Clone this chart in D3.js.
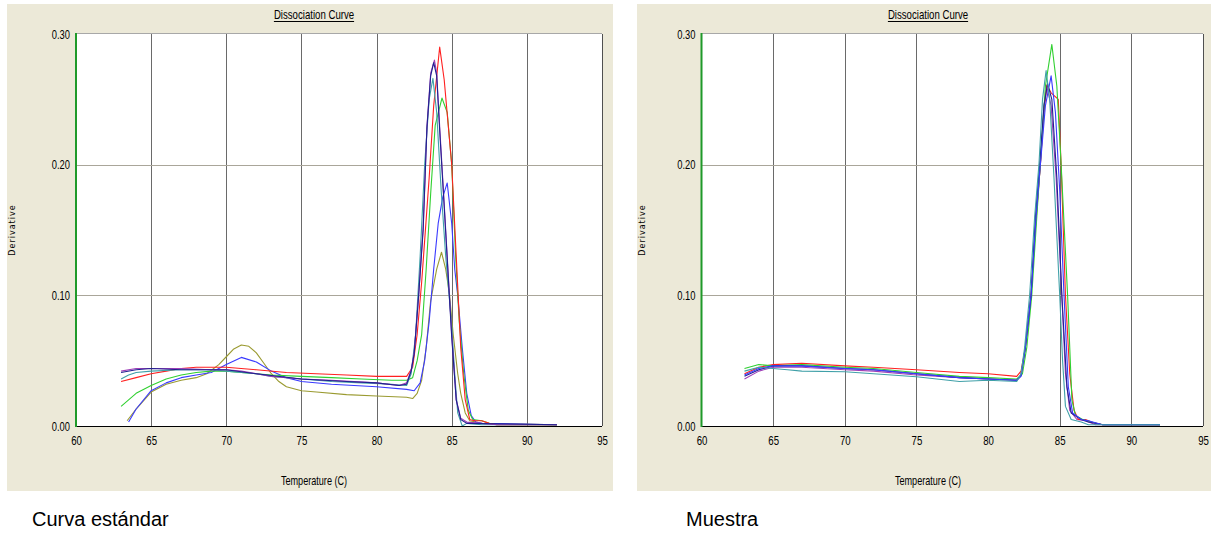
<!DOCTYPE html>
<html>
<head>
<meta charset="utf-8">
<script src="https://cdn.jsdelivr.net/npm/d3@7"></script>
<style>
  body { margin: 0; background: #fff; }
  .tick text { font-family: "Liberation Sans Narrow", "Arial Narrow", "Liberation Sans", sans-serif; font-size: 13px; fill: #000; }
  .lbl { font-family: "Liberation Sans Narrow", "Arial Narrow", "Liberation Sans", sans-serif; font-size: 13px; fill: #000; }
  .cap { font-family: "Liberation Sans", Arial, sans-serif; font-size: 20px; fill: #000; }
</style>
</head>
<body>
<div id="chart-area"></div>
<script>
// x ticks / y ticks shared by both panels
var tempTicks = [60, 65, 70, 75, 80, 85, 90, 95];
var derivTicks = [0, 0.1, 0.2, 0.3];
var captions = ["Curva estándar", "Muestra"];

// ---- Curva estándar ----
var stdRed = [[63,0.034],[64,0.037],[65,0.040],[66,0.042],[67,0.044],[68,0.045],[70,0.045],[72,0.043],[74,0.041],[76,0.040],[78,0.039],[80,0.038],[82,0.038],[82.4,0.045],[82.7,0.07],[83,0.11],[83.5,0.19],[83.8,0.245],[84.2,0.29],[84.5,0.265],[85,0.20],[85.3,0.13],[85.6,0.06],[85.9,0.02],[86.2,0.005],[86.5,0.004],[87,0.004],[87.5,0.002],[88,0.001],[92,0.001]];
var stdPurple = [[63,0.042],[64,0.044],[65,0.044],[67,0.044],[69,0.043],[70,0.043],[71,0.042],[72,0.040],[73,0.038],[75,0.036],[77,0.035],[80,0.033],[81.5,0.031],[82,0.033],[82.3,0.043],[82.5,0.056],[82.8,0.10],[83.1,0.152],[83.35,0.229],[83.6,0.27],[83.85,0.28],[84.0,0.27],[84.2,0.229],[84.5,0.17],[84.75,0.12],[85,0.07],[85.3,0.02],[85.6,0.006],[86,0.003],[87,0.002],[88,0.001],[92,0.001]];
var stdNavy = [[63,0.041],[64,0.043],[65,0.044],[67,0.043],[70,0.043],[72,0.040],[75,0.036],[78,0.034],[80,0.033],[81.5,0.031],[82,0.032],[82.3,0.042],[82.5,0.055],[82.8,0.10],[83.1,0.15],[83.35,0.228],[83.6,0.268],[83.8,0.278],[84.0,0.268],[84.2,0.226],[84.5,0.168],[84.75,0.118],[85,0.068],[85.3,0.02],[85.6,0.005],[86,0.002],[92,0.001]];
var stdTeal = [[63,0.036],[63.5,0.039],[64,0.041],[65,0.042],[67,0.043],[69,0.043],[70,0.042],[71,0.041],[72,0.040],[73,0.038],[75,0.036],[77,0.034],[79,0.033],[81,0.032],[82,0.031],[82.3,0.04],[82.6,0.07],[82.9,0.13],[83.2,0.2],[83.5,0.25],[83.75,0.266],[84,0.24],[84.3,0.18],[84.6,0.13],[85,0.077],[85.2,0.04],[85.4,0.01],[85.7,0.0],[86,0.002],[87,0.001],[92,0.001]];
var stdGreen = [[63,0.015],[63.5,0.020],[64,0.025],[65,0.031],[66,0.036],[67,0.039],[68,0.041],[69,0.042],[70,0.042],[71,0.041],[72,0.040],[73,0.039],[75,0.038],[77,0.037],[79,0.036],[81,0.035],[82,0.035],[82.4,0.037],[82.7,0.05],[83,0.07],[83.3,0.12],[83.6,0.178],[83.9,0.23],[84.35,0.251],[84.7,0.24],[85,0.20],[85.26,0.13],[85.5,0.08],[85.8,0.04],[86.1,0.012],[86.4,0.005],[87,0.004],[87.5,0.002],[88,0.001],[92,0.001]];
var stdBlue = [[63.5,0.003],[64,0.013],[65,0.027],[66,0.033],[67,0.037],[68,0.039],[69,0.041],[70,0.047],[71,0.0525],[72,0.049],[73,0.042],[74,0.037],[75,0.034],[77,0.032],[80,0.030],[82,0.028],[82.5,0.027],[82.9,0.033],[83.2,0.05],[83.5,0.08],[83.8,0.12],[84.1,0.155],[84.4,0.175],[84.7,0.186],[85,0.155],[85.2,0.12],[85.4,0.10],[85.7,0.06],[86,0.025],[86.3,0.008],[86.6,0.003],[87,0.002],[92,0.001]];
var stdOlive = [[63.4,0.004],[64,0.013],[65,0.026],[66,0.032],[67,0.035],[68,0.037],[68.7,0.040],[69.5,0.047],[70,0.053],[70.5,0.059],[71,0.062],[71.5,0.061],[72,0.056],[72.5,0.048],[73,0.040],[73.5,0.034],[74,0.030],[75,0.027],[76,0.026],[78,0.024],[80,0.023],[82,0.022],[82.4,0.021],[82.7,0.025],[83,0.035],[83.3,0.06],[83.6,0.096],[84,0.12],[84.32,0.133],[84.6,0.12],[84.85,0.101],[85.1,0.07],[85.4,0.04],[85.6,0.025],[85.9,0.01],[86.2,0.004],[87,0.002],[92,0.001]];

// ---- Muestra ----
var smpRed = [[63,0.040],[64,0.045],[65,0.047],[67,0.048],[70,0.046],[72,0.045],[75,0.043],[78,0.041],[80,0.040],[82,0.038],[82.3,0.042],[82.6,0.06],[83,0.10],[83.3,0.15],[83.65,0.2],[83.9,0.24],[84.1,0.261],[84.4,0.255],[84.9,0.25],[85.1,0.2],[85.4,0.10],[85.7,0.04],[86,0.012],[86.3,0.005],[86.8,0.005],[87.2,0.003],[88,0.001],[92,0.001]];
var smpGreen = [[63,0.044],[64,0.047],[65,0.046],[67,0.047],[70,0.045],[72,0.044],[75,0.041],[78,0.038],[80,0.037],[82,0.036],[82.4,0.04],[82.7,0.06],[83.05,0.10],[83.4,0.16],[83.7,0.21],[84.0,0.26],[84.45,0.292],[84.8,0.26],[85.1,0.2],[85.55,0.10],[85.85,0.02],[86.1,0.008],[86.6,0.005],[87.2,0.003],[88,0.001],[92,0.001]];
var smpBlue = [[63,0.039],[64,0.044],[65,0.046],[67,0.046],[70,0.044],[72,0.043],[75,0.040],[78,0.037],[80,0.036],[82,0.035],[82.3,0.038],[82.6,0.06],[83,0.10],[83.35,0.16],[83.65,0.2],[84,0.245],[84.4,0.268],[84.7,0.24],[85,0.18],[85.3,0.10],[85.6,0.03],[85.9,0.01],[86.5,0.005],[87,0.004],[88,0.001],[92,0.001]];
var smpTeal = [[63,0.042],[64,0.045],[65,0.044],[66,0.043],[67,0.042],[70,0.0415],[72,0.040],[75,0.0377],[78,0.034],[80,0.035],[82,0.034],[82.3,0.04],[82.55,0.06],[82.9,0.10],[83.25,0.16],[83.55,0.2],[83.8,0.25],[84.05,0.272],[84.3,0.25],[84.6,0.19],[85,0.10],[85.2,0.05],[85.4,0.015],[85.8,0.005],[86.5,0.003],[87,0.001],[92,0.001]];
var smpPurple = [[63,0.036],[64,0.042],[65,0.045],[67,0.045],[70,0.043],[72,0.042],[75,0.039],[78,0.037],[80,0.036],[82,0.035],[82.3,0.039],[82.6,0.06],[83,0.10],[83.35,0.16],[83.65,0.2],[83.9,0.245],[84.1,0.26],[84.4,0.245],[84.75,0.19],[85.1,0.11],[85.4,0.04],[85.7,0.012],[86.2,0.005],[86.8,0.004],[87.5,0.001],[92,0.001]];
var smpNavy = [[63,0.038],[64,0.043],[65,0.046],[67,0.046],[70,0.044],[72,0.043],[75,0.040],[78,0.037],[80,0.036],[82,0.035],[82.3,0.039],[82.6,0.06],[83,0.10],[83.3,0.16],[83.6,0.2],[83.9,0.245],[84.15,0.262],[84.45,0.25],[84.8,0.19],[85.15,0.10],[85.5,0.03],[85.8,0.01],[86.5,0.005],[87,0.003],[88,0.001],[92,0.001]];

var stdSeries = [
    { color: "#9a9a30", pts: stdOlive },
    { color: "#3a3aff", pts: stdBlue },
    { color: "#30d030", pts: stdGreen },
    { color: "#ff2020", pts: stdRed },
    { color: "#40a0a8", pts: stdTeal },
    { color: "#a040b8", pts: stdPurple },
    { color: "#202090", pts: stdNavy }
];
var smpSeries = [
    { color: "#a040b8", pts: smpPurple },
    { color: "#ff2020", pts: smpRed },
    { color: "#30d030", pts: smpGreen },
    { color: "#202090", pts: smpNavy },
    { color: "#3a3aff", pts: smpBlue },
    { color: "#40a0a8", pts: smpTeal }
];

var svg = d3.select("#chart-area").append("svg")
    .attr("width", 1211)
    .attr("height", 535);

// squeeze text to mimic the narrow font of the original
function narrow(sel, k) {
    sel.each(function () {
        var w = this.getComputedTextLength();
        d3.select(this).attr("textLength", w * k).attr("lengthAdjust", "spacingAndGlyphs");
    });
}

function drawPanel(p, series, caption) {
    var g = svg.append("g");

    g.append("rect")
        .attr("x", p.bx0).attr("y", 4)
        .attr("width", p.bx1 - p.bx0).attr("height", 487)
        .attr("fill", "#ece9d8");

    var x = d3.scaleLinear().domain([60, 95]).range([p.x0, p.x1]);
    var y = d3.scaleLinear().domain([0, 0.3]).range([426, 34]);

    g.append("rect")
        .attr("x", p.x0).attr("y", y(0.3))
        .attr("width", p.x1 - p.x0).attr("height", y(0) - y(0.3))
        .attr("fill", "#ffffff");

    // grid
    g.selectAll(".vgrid")
        .data(tempTicks.slice(1, -1))
        .enter().append("line")
        .attr("x1", function (d) { return Math.round(x(d)) + 0.5; })
        .attr("x2", function (d) { return Math.round(x(d)) + 0.5; })
        .attr("y1", y(0.3)).attr("y2", y(0))
        .attr("stroke", "#6a6a6a");
    g.selectAll(".hgrid")
        .data([0.1, 0.2])
        .enter().append("line")
        .attr("x1", p.x0).attr("x2", p.x1)
        .attr("y1", function (d) { return Math.round(y(d)) + 0.5; })
        .attr("y2", function (d) { return Math.round(y(d)) + 0.5; })
        .attr("stroke", "#aaa69a");

    // frame
    g.append("line").attr("x1", p.x0).attr("x2", p.x1)
        .attr("y1", Math.round(y(0.3)) - 0.5).attr("y2", Math.round(y(0.3)) - 0.5)
        .attr("stroke", "#a8a8a8");
    g.append("line").attr("x1", Math.round(p.x1) + 0.5).attr("x2", Math.round(p.x1) + 0.5)
        .attr("y1", y(0.3)).attr("y2", y(0))
        .attr("stroke", "#505050");

    // curves
    var line = d3.line()
        .x(function (d) { return x(d[0]); })
        .y(function (d) { return y(d[1]); });
    g.selectAll(".curve")
        .data(series)
        .enter().append("path")
        .attr("d", function (d) { return line(d.pts); })
        .attr("fill", "none")
        .attr("stroke", function (d) { return d.color; })
        .attr("stroke-width", 1.1)
        .attr("stroke-linejoin", "round");

    g.append("line").attr("x1", p.x0).attr("x2", p.x1)
        .attr("y1", Math.round(y(0)) + 0.5).attr("y2", Math.round(y(0)) + 0.5)
        .attr("stroke", "#000");
    g.append("line").attr("x1", p.x0).attr("x2", p.x0)
        .attr("y1", y(0.3) - 1).attr("y2", y(0) + 1)
        .attr("stroke", "#1f9a2a").attr("stroke-width", 2);

    // axes (labels only)
    var xAxis = d3.axisBottom(x).tickValues(tempTicks).tickSize(0).tickPadding(10)
        .tickFormat(d3.format("d"));
    g.append("g").attr("transform", "translate(0," + y(0) + ")")
        .call(xAxis)
        .call(function (a) { a.select(".domain").remove(); })
        .selectAll("text").call(narrow, 0.74);

    var yAxis = d3.axisLeft(y).tickValues(derivTicks).tickSize(0).tickPadding(6)
        .tickFormat(d3.format(".2f"));
    g.append("g").attr("transform", "translate(" + p.x0 + ",0)")
        .call(yAxis)
        .call(function (a) { a.select(".domain").remove(); })
        .selectAll("text").call(narrow, 0.72);

    var cx = (p.bx0 + p.bx1) / 2;
    var title = g.append("text").attr("class", "lbl")
        .attr("x", cx + 4).attr("y", 19)
        .attr("text-anchor", "middle")
        .text("Dissociation Curve")
        .call(narrow, 0.74);
    var bb = title.node().getBBox();
    g.append("line")
        .attr("x1", bb.x).attr("x2", bb.x + bb.width)
        .attr("y1", 21.5).attr("y2", 21.5)
        .attr("stroke", "#000");

    g.append("text").attr("class", "lbl")
        .attr("x", cx + 4).attr("y", 485)
        .attr("text-anchor", "middle")
        .text("Temperature (C)")
        .call(narrow, 0.7);

    g.append("text")
        .attr("transform", "translate(" + (p.bx0 + 8) + ",230) rotate(-90)")
        .attr("text-anchor", "middle")
        .style("font-family", "'DejaVu Sans', sans-serif")
        .style("font-size", "8px")
        .style("letter-spacing", "1px")
        .text("Derivative");

    svg.append("text").attr("class", "cap")
        .attr("x", p.capX).attr("y", 526)
        .text(caption);
}

drawPanel({ bx0: 7, bx1: 613, x0: 76, x1: 602, capX: 32 }, stdSeries, captions[0]);
drawPanel({ bx0: 637, bx1: 1211, x0: 701.5, x1: 1203, capX: 686 }, smpSeries, captions[1]);
</script>
</body>
</html>
